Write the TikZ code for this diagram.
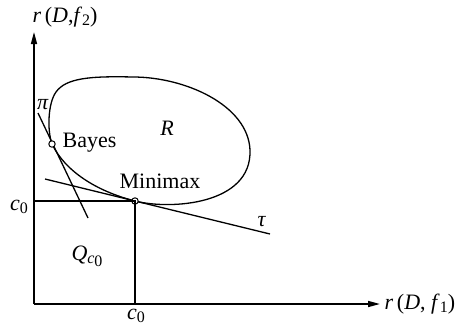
\documentclass[tikz,border=0pt]{standalone}
\usepackage{fontspec}
\setmainfont{Liberation Serif}
\usetikzlibrary{arrows.meta}
\newcommand{\vi}[1]{\textit{#1}}
\newcommand{\sub}[1]{\raisebox{-0.35ex}{\footnotesize #1}}
\begin{document}
\begin{tikzpicture}[x=0.5pt,y=-0.5pt,line width=0.65pt,
  font=\fontsize{11}{13}\selectfont,
  >={Triangle[length=6pt,width=3pt]},
  pt/.style={circle,draw,fill=white,inner sep=0pt,minimum size=3.2pt,line width=0.5pt}]
\useasboundingbox (0,0) rectangle (458,327);
\coordinate (o) at (34,304);
\coordinate (xend) at (380,304);
\coordinate (yend) at (34,32);
\draw[->,line width=0.75pt] (o) -- (xend);
\draw[->,line width=0.75pt] (o) -- (yend);
\node[anchor=west,inner sep=2pt] (xlab) at (xend) {\vi{r}\,(\vi{D}, \vi{f}\sub{1})};
\node (ylab) at (65,17) {\vi{r}\,(\vi{D},\vi{f}\sub{2})};
% risk set R
\draw (52,144) .. controls (65,171) and (96,191) .. (135,201)
  .. controls (170,210) and (252,205) .. (250,150)
  .. controls (248,105) and (185,77) .. (133,77)
  .. controls (90,76) and (66,78) .. (56,92)
  .. controls (48,103) and (47,130) .. (52,144);
% supporting lines
\coordinate (pia) at (38,113);
\coordinate (pib) at (88,218);
\coordinate (taua) at (45,179);
\coordinate (taub) at (270,234);
\coordinate (cl) at (34,201);
\coordinate (cb) at (135,304);
\draw (pia) -- (pib);
\draw (taua) -- (taub);
\node[pt] (bayes) at (52,144) {};
\node[pt] (minimax) at (135,201) {};
\draw (cl) -- (minimax.center) -- (cb);
\node[anchor=west,inner sep=0pt] (bayeslab) at (62,143) {Bayes};
\node (minimaxlab) at (160,181) {Minimax};
\node (pilab) at (43,105) {\vi{π}};
\node (taulab) at (262,222) {\vi{τ}};
\node (rlab) at (167,128) {\vi{R}};
\node (qlab) at (87,256) {\vi{Q}\sub{\vi{c}\sub{0}}};
\node (c0y) at (19,207) {\vi{c}\sub{0}};
\node (c0x) at (136,316) {\vi{c}\sub{0}};
\end{tikzpicture}
\end{document}
